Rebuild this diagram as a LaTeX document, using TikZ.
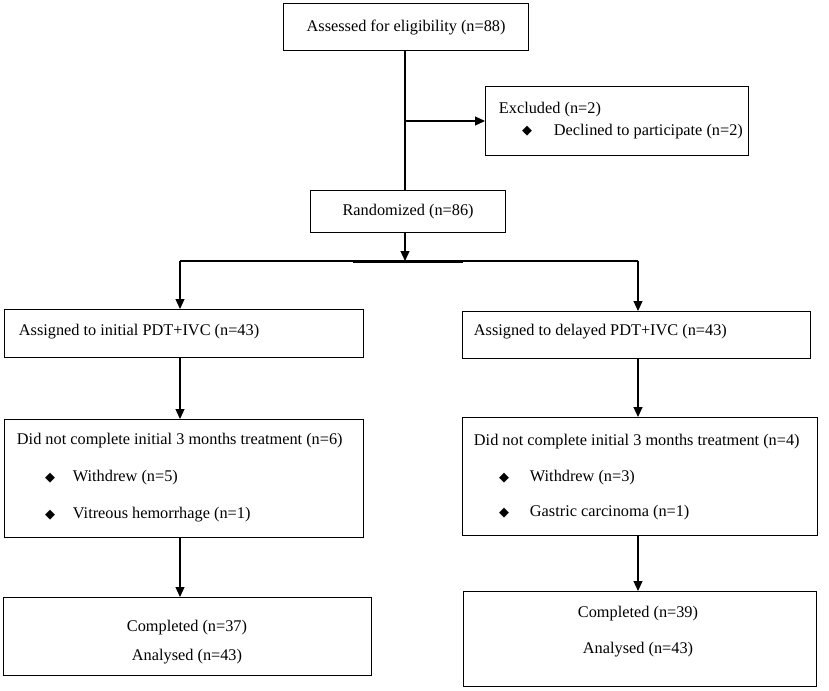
\documentclass[tikz,border=0pt]{standalone}
\usepackage{fontspec}
\setmainfont{Liberation Serif}
\newfontfamily\bulletfont{DejaVu Sans}
\usetikzlibrary{arrows.meta}

\tikzset{
  box/.style={draw, line width=1.2pt, anchor=north west, inner sep=0pt, font=\fontsize{16.3}{19}\selectfont},
  txt/.style={inner sep=0.75pt, font=\fontsize{16.3}{19}\selectfont},
  bul/.style={inner sep=0.75pt, font={\bulletfont\fontsize{13}{14}\selectfont}},
  conn/.style={line width=1.2pt},
  arr/.style={line width=1.2pt, -{Triangle[length=10pt,width=9pt]}},
}

\begin{document}
\begin{tikzpicture}[x=1pt,y=1pt,yscale=-1]
\useasboundingbox (0,0) rectangle (829,690);

%Shape: Rectangle [id:assess]
\node[box, minimum width=245pt, minimum height=47pt] (assess) at (283,3) {Assessed for eligibility (n=88)};
%Shape: Rectangle [id:excl]
\node[box, minimum width=263pt, minimum height=69pt] (excl) at (485,86) {};
%Shape: Rectangle [id:rand]
\node[box, minimum width=195pt, minimum height=42pt] (rand) at (310,190) {Randomized (n=86)};
%Shape: Rectangle [id:initA]
\node[box, minimum width=359pt, minimum height=48pt] (initA) at (4,309) {};
%Shape: Rectangle [id:delayA]
\node[box, minimum width=348pt, minimum height=47pt] (delayA) at (462,311) {};
%Shape: Rectangle [id:dncL]
\node[box, minimum width=359pt, minimum height=118pt] (dncL) at (4,419) {};
%Shape: Rectangle [id:dncR]
\node[box, minimum width=355pt, minimum height=118pt] (dncR) at (462,417) {};
%Shape: Rectangle [id:compL]
\node[box, minimum width=368pt, minimum height=78pt] (compL) at (3,597) {};
%Shape: Rectangle [id:compR]
\node[box, minimum width=353pt, minimum height=95pt] (compR) at (463,591) {};

% Branch points
\coordinate (split) at (405,121);
\coordinate (hub) at (405,261);
\coordinate (brL) at (180,261);
\coordinate (brR) at (638,261);

%Straight Lines
\draw[conn] (assess.south -| split) -- (rand.north -| split);
\draw[arr] (split) -- (excl.west |- split);
\draw[arr] (rand.south -| hub) -- (hub);
\draw[conn] (brL) -- (brR);
\draw[line width=3pt] (353,261) -- (463,261);
\draw[arr] (brL) -- (initA.north -| brL);
\draw[arr] (brR) -- (delayA.north -| brR);
\draw[arr] (initA.south -| brL) -- (dncL.north -| brL);
\draw[arr] (delayA.south -| brR) -- (dncR.north -| brR);
\draw[arr] (dncL.south -| brL) -- (compL.north -| brL);
\draw[arr] (dncR.south -| brR) -- (compR.north -| brR);

% Text Node
\node[txt, anchor=west] (exclt) at (498,110) {Excluded (n=2)};
\node[bul] (exclb) at (527,131) {◆};
\node[txt, anchor=west] (declt) at (553,132) {Declined to participate (n=2)};
% Text Node
\node[txt, anchor=west] (initt) at (18,332) {Assigned to initial PDT+IVC (n=43)};
\node[txt, anchor=west] (delayt) at (473,332) {Assigned to delayed PDT+IVC (n=43)};
% Text Node
\node[txt, anchor=west] (dncLt) at (16,441) {Did not complete initial 3 months treatment (n=6)};
\node[bul] (dncLb1) at (50,478) {◆};
\node[txt, anchor=west] (dncLw) at (72,478) {Withdrew (n=5)};
\node[bul] (dncLb2) at (50,515) {◆};
\node[txt, anchor=west] (dncLv) at (72,515) {Vitreous hemorrhage (n=1)};
% Text Node
\node[txt, anchor=west] (dncRt) at (473,442) {Did not complete initial 3 months treatment (n=4)};
\node[bul] (dncRb1) at (504,478) {◆};
\node[txt, anchor=west] (dncRw) at (529,478) {Withdrew (n=3)};
\node[bul] (dncRb2) at (504,513) {◆};
\node[txt, anchor=west] (dncRg) at (529,513) {Gastric carcinoma (n=1)};
% Text Node
\node[txt] (compLc) at (187,628) {Completed (n=37)};
\node[txt] (compLa) at (187,657) {Analysed (n=43)};
\node[txt] (compRc) at (638,614) {Completed (n=39)};
\node[txt] (compRa) at (638,650) {Analysed (n=43)};

\end{tikzpicture}
\end{document}
